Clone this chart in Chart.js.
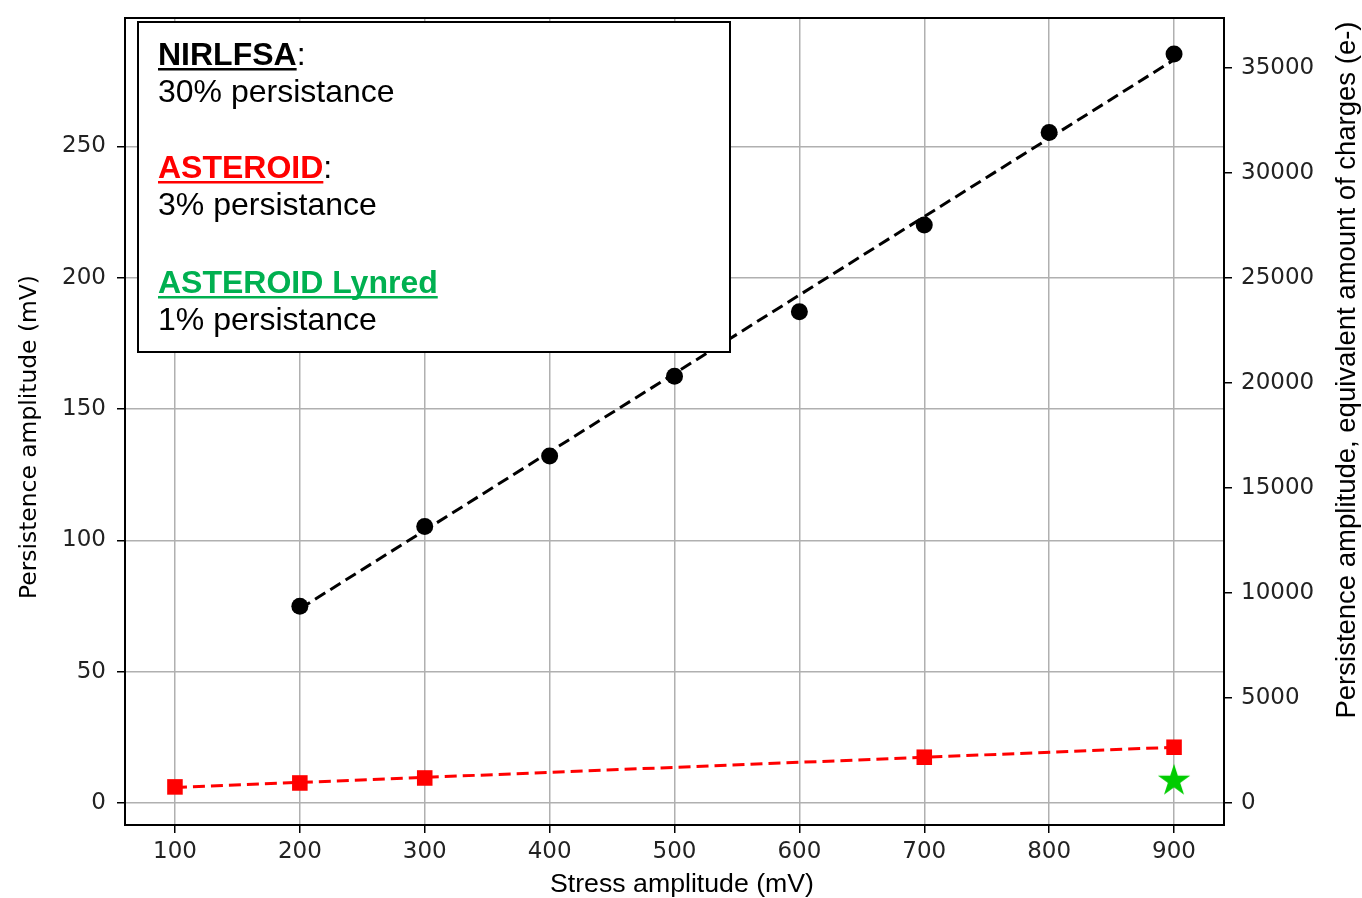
<!DOCTYPE html>
<html>
<head>
<meta charset="utf-8">
<script src="https://cdn.jsdelivr.net/npm/chart.js@4.4.1/dist/chart.umd.min.js"></script>
<style>
    html, body { margin: 0; padding: 0; background: #fff; }
    #wrap { width: 1362px; height: 898px; }
</style>
</head>
<body>
<div id="wrap"><canvas id="persistChart" width="1362" height="898"></canvas></div>
<script>
// NIRLFSA measurements (mV)
const nirlfsaStress = [200, 300, 400, 500, 600, 700, 800, 900];
const nirlfsaAmp = [75, 105.3, 132.2, 162.5, 187.1, 220.1, 255.3, 285.2];
const nirlfsaFitStress = [200, 900];
const nirlfsaFitAmp = [74, 283];

// ASTEROID measurements (mV)
const asteroidStress = [100, 200, 300, 700, 900];
const asteroidAmp = [6.2, 7.7, 9.6, 17.5, 21.3];
const asteroidFitStress = [100, 900];
const asteroidFitAmp = [6.0, 21.3];

// ASTEROID Lynred (single point)
const lynredStress = [900];
const lynredAmp = [8.5];

// Axes
const xTicks = [100, 200, 300, 400, 500, 600, 700, 800, 900];
const ampTicks = [0, 50, 100, 150, 200, 250];
const chargeTicks = [0, 5000, 10000, 15000, 20000, 25000, 30000, 35000];
const xRange = [60, 940];
const ampRange = [-8.3, 298.9];
const electronsPerMv = 125;

// Text box in the upper left
const boxEntries = [
    { name: 'NIRLFSA', color: '#000000', colon: true, note: '30% persistance' },
    { name: 'ASTEROID', color: '#ff0000', colon: true, note: '3% persistance' },
    { name: 'ASTEROID Lynred', color: '#00b050', colon: false, note: '1% persistance' }
];

const toPoints = (xs, ys) => xs.map((x, i) => ({ x: x, y: ys[i] }));

// Filled five point star, used as point style
function makeStar(r, color) {
    const size = Math.ceil(r * 2) + 2;
    const c = document.createElement('canvas');
    c.width = size;
    c.height = size;
    const g = c.getContext('2d');
    g.translate(size / 2, size / 2);
    g.beginPath();
    for (let i = 0; i < 10; i++) {
        const rad = i % 2 === 0 ? r : r * 0.382;
        const a = -Math.PI / 2 + i * Math.PI / 5;
        g.lineTo(rad * Math.cos(a), rad * Math.sin(a));
    }
    g.closePath();
    g.fillStyle = color;
    g.fill();
    return c;
}

const tickFont = { family: 'DejaVu Sans', size: 23 };
const tickColor = '#222';
const gridStyle = { color: '#b0b0b0', lineWidth: 1.5, tickColor: '#000', tickLength: 8, tickWidth: 1.5 };

// fixed axis sizes so the plot area lands where the original one is
function fixWidth(w) {
    return s => { s.width = w; s.paddingTop = 0; s.paddingBottom = 0; };
}

// Frame, axis titles and the text box
const decorPlugin = {
    id: 'decor',
    afterDraw(chart) {
        const ctx = chart.ctx;
        const a = chart.chartArea;
        ctx.save();
        ctx.strokeStyle = '#000';
        ctx.lineWidth = 2;
        ctx.strokeRect(a.left, a.top, a.right - a.left, a.bottom - a.top);

        // axis titles
        ctx.fillStyle = '#000';
        ctx.textAlign = 'center';
        ctx.textBaseline = 'middle';
        ctx.font = '26.7px "Liberation Sans", Arial, sans-serif';
        ctx.fillText('Stress amplitude (mV)', 682, 885);

        ctx.save();
        ctx.translate(30, 437);
        ctx.rotate(-Math.PI / 2);
        ctx.font = '23.4px "DejaVu Sans", sans-serif';
        ctx.fillText('Persistence amplitude (mV)', 0, 0);
        ctx.restore();

        ctx.save();
        ctx.translate(1347, 370);
        ctx.rotate(-Math.PI / 2);
        ctx.font = '27.5px "Liberation Sans", Arial, sans-serif';
        ctx.fillText('Persistence amplitude, equivalent amount of charges (e-)', 0, 0);
        ctx.restore();

        // text box
        ctx.fillStyle = '#fff';
        ctx.fillRect(138, 22, 592, 330);
        ctx.strokeStyle = '#000';
        ctx.lineWidth = 2;
        ctx.strokeRect(138, 22, 592, 330);

        ctx.textAlign = 'left';
        ctx.textBaseline = 'alphabetic';
        const x0 = 158;
        const baselines = [65, 178, 293];
        boxEntries.forEach((e, i) => {
            const yb = baselines[i];
            ctx.font = 'bold 32px "Liberation Sans", Arial, sans-serif';
            ctx.fillStyle = e.color;
            ctx.fillText(e.name, x0, yb);
            const w = ctx.measureText(e.name).width;
            ctx.fillRect(x0, yb + 3, w, 2.5);
            if (e.colon) {
                ctx.font = '32px "Liberation Sans", Arial, sans-serif';
                ctx.fillStyle = '#000';
                ctx.fillText(':', x0 + w, yb);
            }
            ctx.font = '32px "Liberation Sans", Arial, sans-serif';
            ctx.fillStyle = '#000';
            ctx.fillText(e.note, x0, yb + 37);
        });
        ctx.restore();
    }
};

const ctx = document.getElementById('persistChart').getContext('2d');
const chart = new Chart(ctx, {
    type: 'scatter',
    data: {
        datasets: [
            {
                label: 'NIRLFSA',
                data: toPoints(nirlfsaStress, nirlfsaAmp),
                backgroundColor: '#000',
                borderWidth: 0,
                pointRadius: 8.5,
                showLine: false
            },
            {
                label: 'ASTEROID',
                data: toPoints(asteroidStress, asteroidAmp),
                backgroundColor: '#ff0000',
                borderWidth: 0,
                pointStyle: 'rect',
                pointRadius: 11,
                showLine: false
            },
            {
                label: 'ASTEROID Lynred',
                data: toPoints(lynredStress, lynredAmp),
                pointStyle: makeStar(17, '#00cc00'),
                pointRadius: 17,
                showLine: false
            },
            {
                label: 'NIRLFSA fit',
                data: toPoints(nirlfsaFitStress, nirlfsaFitAmp),
                showLine: true,
                borderColor: '#000',
                borderWidth: 3,
                borderDash: [12, 6],
                pointRadius: 0,
                fill: false
            },
            {
                label: 'ASTEROID fit',
                data: toPoints(asteroidFitStress, asteroidFitAmp),
                showLine: true,
                borderColor: '#ff0000',
                borderWidth: 3,
                borderDash: [12, 6],
                pointRadius: 0,
                fill: false
            }
        ]
    },
    options: {
        responsive: false,
        animation: false,
        devicePixelRatio: 1,
        layout: { padding: { top: 14, left: 0, right: 0, bottom: 0 } },
        scales: {
            x: {
                type: 'linear',
                position: 'bottom',
                min: xRange[0],
                max: xRange[1],
                afterBuildTicks: s => { s.ticks = xTicks.map(v => ({ value: v })); },
                afterFit: s => { s.height = 73; s.paddingLeft = 0; s.paddingRight = 0; },
                grid: gridStyle,
                border: { display: false },
                ticks: { font: tickFont, color: tickColor, padding: 5, maxRotation: 0, autoSkip: false }
            },
            y: {
                type: 'linear',
                position: 'left',
                min: ampRange[0],
                max: ampRange[1],
                afterBuildTicks: s => { s.ticks = ampTicks.map(v => ({ value: v })); },
                afterFit: fixWidth(125),
                grid: gridStyle,
                border: { display: false },
                ticks: { font: tickFont, color: tickColor, padding: 11 }
            },
            y2: {
                type: 'linear',
                position: 'right',
                display: true,
                min: ampRange[0] * electronsPerMv,
                max: ampRange[1] * electronsPerMv,
                afterBuildTicks: s => { s.ticks = chargeTicks.map(v => ({ value: v })); },
                afterFit: fixWidth(138),
                grid: { ...gridStyle, drawOnChartArea: false },
                border: { display: false },
                ticks: { font: tickFont, color: tickColor, padding: 9, callback: v => String(v) }
            }
        },
        plugins: {
            legend: { display: false },
            tooltip: { enabled: false },
            title: { display: false }
        }
    },
    plugins: [decorPlugin]
});
</script>
</body>
</html>
